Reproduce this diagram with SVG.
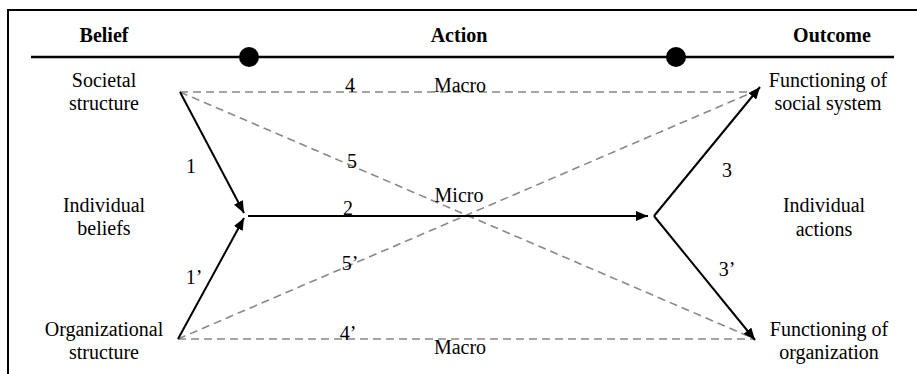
<svg xmlns="http://www.w3.org/2000/svg" width="917" height="374" viewBox="0 0 917 374">
<style>
text{font-family:"Liberation Serif","Times New Roman",serif;font-size:20px;fill:#000}
.h{font-weight:bold;text-anchor:middle}
.n{text-anchor:middle}
.s{stroke:#000;stroke-width:2;fill:none}
.d{stroke:#888;stroke-width:1.6;stroke-dasharray:8 5;fill:none}
</style>
<defs>
<marker id="ah" viewBox="0 0 12 10" refX="12" refY="5" markerWidth="12" markerHeight="10" markerUnits="userSpaceOnUse" orient="auto">
<path d="M0,0 L12,5 L0,10 Z" fill="#000"/>
</marker>
</defs>
<rect width="917" height="374" fill="#fff"/>
<g id="frame">
<path d="M8,374 V10 H917" fill="none" stroke="#000" stroke-width="2"/>
<line x1="31" y1="57" x2="894" y2="57" stroke="#000" stroke-width="2.5"/>
<circle cx="249" cy="57" r="10" fill="#000"/>
<circle cx="676" cy="57" r="10" fill="#000"/>
<text class="h" x="104" y="42">Belief</text>
<text class="h" x="459" y="42">Action</text>
<text class="h" x="832" y="42">Outcome</text>
</g>
<g id="connectors">
<line class="d" x1="180" y1="92" x2="758" y2="92"/>
<line class="d" x1="180" y1="92" x2="755" y2="339"/>
<line class="d" x1="178" y1="339" x2="758" y2="90"/>
<line class="d" x1="178" y1="339" x2="755" y2="339"/>
<line class="s" x1="180" y1="92" x2="244" y2="213" marker-end="url(#ah)"/>
<line class="s" x1="178" y1="339" x2="244" y2="218" marker-end="url(#ah)"/>
<line class="s" x1="248" y1="216" x2="648" y2="216" marker-end="url(#ah)"/>
<line class="s" x1="654" y1="216" x2="760" y2="87" marker-end="url(#ah)"/>
<line class="s" x1="654" y1="216" x2="755" y2="340" marker-end="url(#ah)"/>
<text class="n" x="350" y="92">4</text>
<text class="n" x="460" y="92">Macro</text>
<text class="n" x="352" y="168">5</text>
<text class="n" x="191" y="173">1</text>
<text class="n" x="459" y="202">Micro</text>
<text class="n" x="348" y="215">2</text>
<text class="n" x="350" y="270">5’</text>
<text class="n" x="194" y="284">1’</text>
<text class="n" x="348" y="340">4’</text>
<text class="n" x="460" y="354">Macro</text>
<text class="n" x="727" y="177">3</text>
<text class="n" x="727" y="276">3’</text>
</g>
<g id="societal"><text class="n" x="104" y="87">Societal</text><text class="n" x="104" y="110">structure</text></g>
<g id="individual-beliefs"><text class="n" x="104" y="212">Individual</text><text class="n" x="104" y="235">beliefs</text></g>
<g id="organizational"><text class="n" x="104" y="336">Organizational</text><text class="n" x="104" y="359">structure</text></g>
<g id="social-system"><text class="n" x="828" y="87">Functioning of</text><text class="n" x="828" y="110">social system</text></g>
<g id="individual-actions"><text class="n" x="824" y="212">Individual</text><text class="n" x="824" y="236">actions</text></g>
<g id="organization"><text class="n" x="829" y="336">Functioning of</text><text class="n" x="829" y="359">organization</text></g>
</svg>
